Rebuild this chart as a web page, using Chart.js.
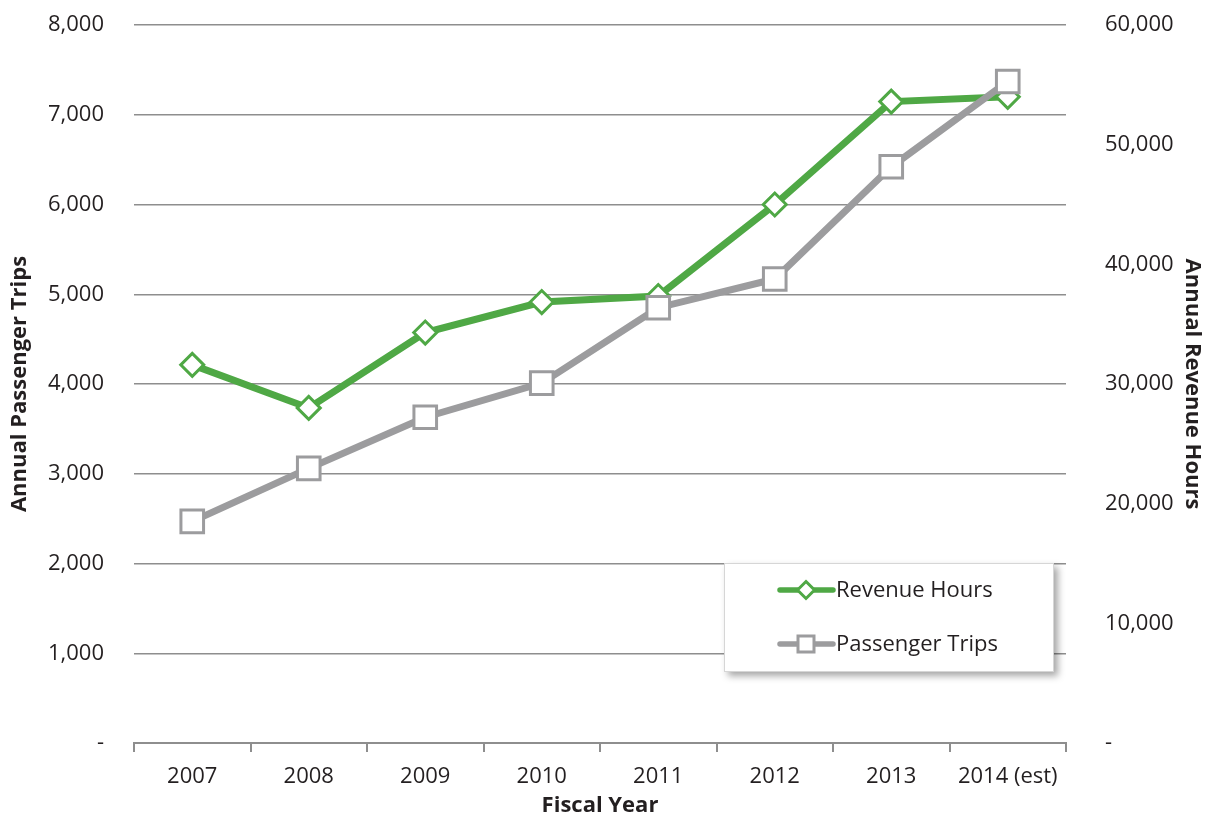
<!DOCTYPE html>
<html>
<head>
<meta charset="utf-8">
<script src="https://cdn.jsdelivr.net/npm/chart.js@4/dist/chart.umd.min.js"></script>
<style>
  html, body { margin: 0; padding: 0; background: #ffffff; }
  #wrap { position: relative; width: 1211px; height: 816px; }
</style>
</head>
<body>
<div id="wrap"><canvas id="c" width="1211" height="816"></canvas></div>
<script>
// ---- data ----
const years = ['2007', '2008', '2009', '2010', '2011', '2012', '2013', '2014 (est)'];
const revenueHours = [31600, 28000, 34300, 36850, 37350, 45000, 53600, 54000];   // right axis
const passengerTrips = [2470, 3060, 3630, 4010, 4850, 5170, 6420, 7370];          // left axis
const leftTicks = [0, 1000, 2000, 3000, 4000, 5000, 6000, 7000, 8000];
const rightTicks = [0, 10000, 20000, 30000, 40000, 50000, 60000];
const seriesNames = ['Revenue Hours', 'Passenger Trips'];
const axisTitles = { x: 'Fiscal Year', left: 'Annual Passenger Trips', right: 'Annual Revenue Hours' };

const GREEN = '#4fa845';
const GRAY = '#9c9c9e';
const TEXT = '#231f20';
const GRID = '#8e8e8e';
const FONT = "'Open Sans', 'Noto Sans', sans-serif";

const fmt = v => v === 0 ? '-' : v.toLocaleString('en-US');

const legendPlugin = {
  id: 'boxLegend',
  afterDatasetsDraw(chart) {
    const ctx = chart.ctx;
    const bx = 724, by = 563, bw = 330, bh = 109;
    ctx.save();
    ctx.shadowColor = 'rgba(0,0,0,0.35)';
    ctx.shadowBlur = 7;
    ctx.shadowOffsetX = 4;
    ctx.shadowOffsetY = 4;
    ctx.fillStyle = '#ffffff';
    ctx.fillRect(bx, by, bw, bh);
    ctx.restore();
    ctx.save();
    ctx.strokeStyle = '#d6d6d6';
    ctx.lineWidth = 1;
    ctx.strokeRect(bx + 0.5, by + 0.5, bw - 1, bh - 1);
    const items = [
      { ds: chart.data.datasets[0], y: 590 },
      { ds: chart.data.datasets[1], y: 644 }
    ];
    items.forEach(it => {
      const ds = it.ds;
      ctx.strokeStyle = ds.borderColor;
      ctx.lineWidth = 5.5;
      ctx.lineCap = 'round';
      ctx.beginPath();
      ctx.moveTo(780, it.y);
      ctx.lineTo(833, it.y);
      ctx.stroke();
      ctx.lineCap = 'butt';
      ctx.fillStyle = '#ffffff';
      ctx.lineWidth = 3;
      ctx.beginPath();
      if (ds.pointStyle === 'rectRot') {
        const r = 8.5;
        ctx.moveTo(806, it.y - r);
        ctx.lineTo(806 + r, it.y);
        ctx.lineTo(806, it.y + r);
        ctx.lineTo(806 - r, it.y);
        ctx.closePath();
      } else {
        ctx.rect(806 - 8, it.y - 8, 16, 16);
      }
      ctx.fill();
      ctx.stroke();
      ctx.fillStyle = TEXT;
      ctx.font = "22px " + FONT;
      ctx.textBaseline = 'middle';
      ctx.textAlign = 'left';
      ctx.fillText(ds.label, 836, it.y + 1);
    });
    ctx.restore();
  }
};

new Chart(document.getElementById('c'), {
  type: 'line',
  data: {
    labels: years,
    datasets: [
      {
        label: seriesNames[0],
        data: revenueHours,
        yAxisID: 'y1',
        borderColor: GREEN,
        backgroundColor: '#ffffff',
        borderWidth: 7,
        pointStyle: 'rectRot',
        pointRadius: 11.5,
        pointHoverRadius: 11.5,
        pointBorderWidth: 3,
        pointBackgroundColor: '#ffffff',
        pointBorderColor: GREEN,
        tension: 0,
        order: 1
      },
      {
        label: seriesNames[1],
        data: passengerTrips,
        yAxisID: 'y',
        borderColor: GRAY,
        backgroundColor: '#ffffff',
        borderWidth: 7,
        pointStyle: 'rect',
        pointRadius: 16,
        pointHoverRadius: 16,
        pointBorderWidth: 3,
        pointBackgroundColor: '#ffffff',
        pointBorderColor: GRAY,
        tension: 0,
        order: 0
      }
    ]
  },
  options: {
    responsive: false,
    animation: false,
    devicePixelRatio: 1,
    layout: { autoPadding: false, padding: { top: 25, left: 0, right: 0, bottom: 0 } },
    plugins: {
      legend: { display: false },
      tooltip: { enabled: false },
      title: { display: false }
    },
    scales: {
      x: {
        type: 'category',
        offset: true,
        grid: {
          offset: true,
          drawOnChartArea: false,
          drawTicks: true,
          tickLength: 9,
          color: GRID,
          lineWidth: 2
        },
        border: { display: true, color: GRID, width: 2 },
        ticks: {
          color: TEXT,
          font: { family: FONT, size: 22 },
          padding: 12,
          maxRotation: 0,
          autoSkip: false
        },
        title: {
          display: true,
          text: axisTitles.x,
          color: TEXT,
          font: { family: FONT, size: 22, weight: 'bold', lineHeight: 0.95 },
          padding: { top: 0, bottom: 0 }
        },
        afterFit(s) { s.height = 73; s.paddingLeft = 0; s.paddingRight = 0; }
      },
      y: {
        position: 'left',
        min: 0,
        max: 8000,
        afterBuildTicks(s) { s.ticks = leftTicks.map(v => ({ value: v })); },
        grid: { color: GRID, lineWidth: 1.5, drawTicks: false },
        border: { display: false },
        ticks: {
          color: TEXT,
          font: { family: FONT, size: 22 },
          padding: 30,
          callback: v => fmt(v)
        },
        title: {
          display: true,
          text: axisTitles.left,
          color: TEXT,
          font: { family: FONT, size: 22, weight: 'bold' },
          padding: { top: 7, bottom: 0 }
        },
        afterFit(s) { s.width = 134; s.paddingTop = 14; s.paddingBottom = 14; }
      },
      y1: {
        position: 'right',
        min: 0,
        max: 60000,
        afterBuildTicks(s) { s.ticks = rightTicks.map(v => ({ value: v })); },
        grid: { display: false, drawOnChartArea: false },
        border: { display: false },
        ticks: {
          color: TEXT,
          font: { family: FONT, size: 22 },
          padding: 31,
          callback: v => fmt(v)
        },
        title: {
          display: true,
          text: axisTitles.right,
          color: TEXT,
          font: { family: FONT, size: 22, weight: 'bold' },
          padding: { top: 6, bottom: 0 }
        },
        afterFit(s) { s.width = 145; s.paddingTop = 14; s.paddingBottom = 14; }
      }
    }
  },
  plugins: [legendPlugin]
});
</script>
</body>
</html>
